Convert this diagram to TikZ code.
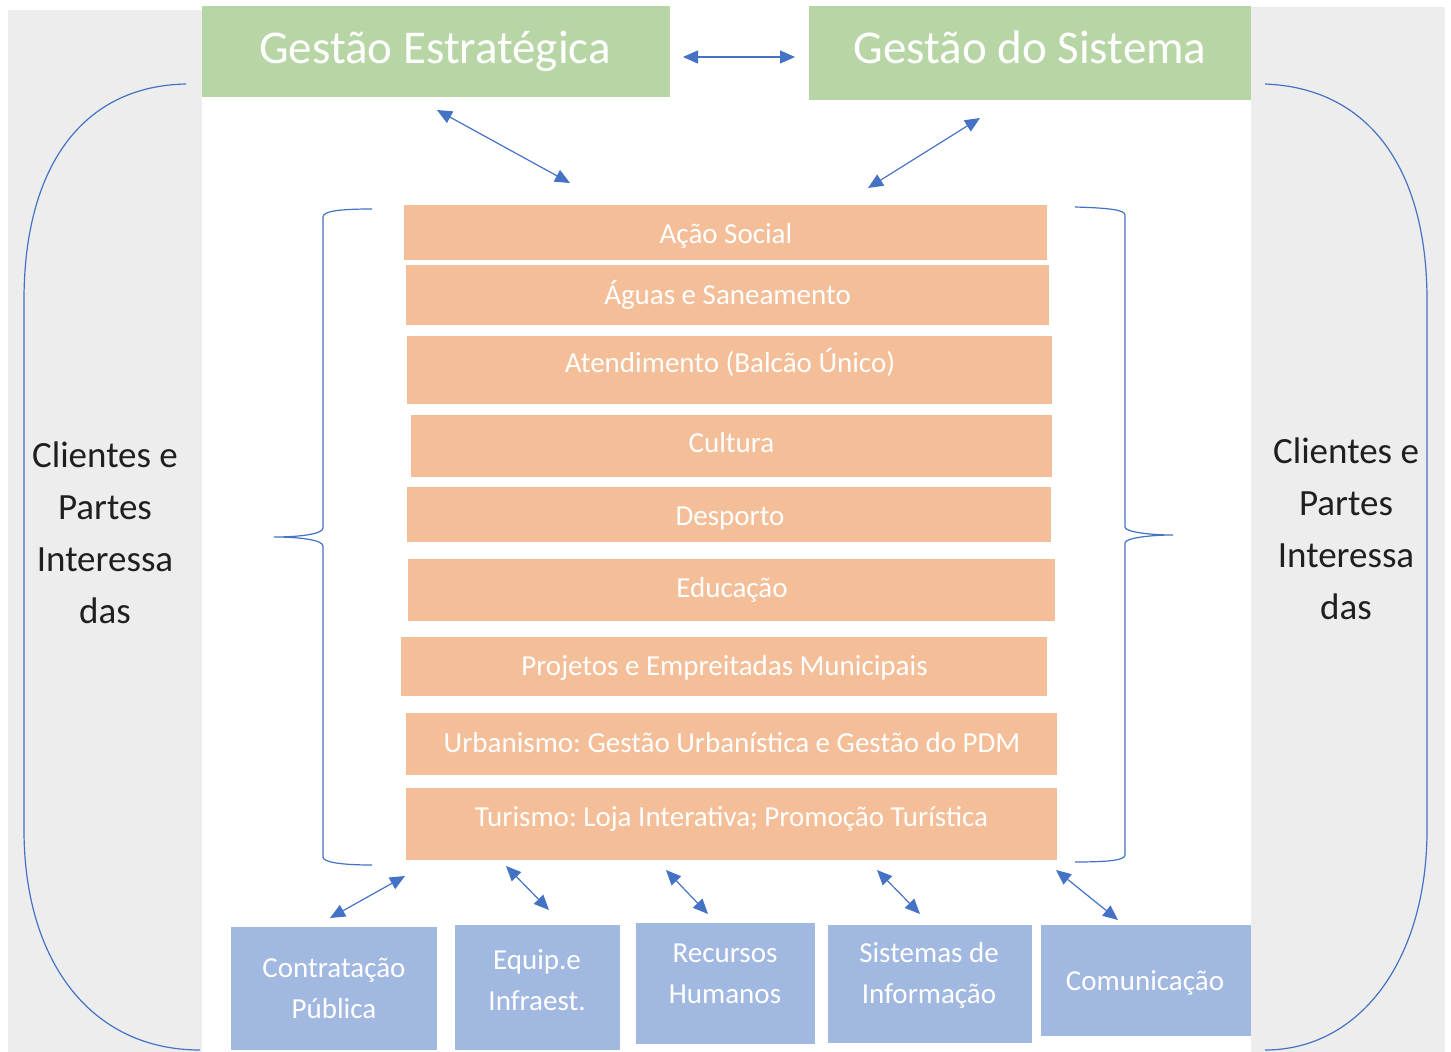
\documentclass[tikz,border=0pt]{standalone}
\usepackage{fontspec}
\setmainfont{Carlito}
\frenchspacing
\usetikzlibrary{arrows.meta}
\definecolor{gbox}{HTML}{B8D6A5}
\definecolor{obox}{HTML}{F4BE98}
\definecolor{bbox}{HTML}{A1B8E0}
\definecolor{panel}{HTML}{EDEDED}
\definecolor{lblue}{HTML}{4472C4}
\tikzset{
  greenbox/.style={fill=gbox, draw=none, inner sep=0pt},
  orangebox/.style={fill=obox, draw=none, inner sep=0pt},
  bluebox/.style={fill=bbox, draw=none, inner sep=0pt},
  titletext/.style={text=white, inner sep=0pt, anchor=base, font=\fontsize{47}{56}\selectfont},
  otext/.style={text=white, inner sep=0pt, anchor=base, font=\fontsize{29}{35}\selectfont},
  btext/.style={text=white, inner sep=0pt, align=center, font=\fontsize{29}{41}\selectfont},
  sidetext/.style={text=black!88, inner sep=0pt, align=center, font=\fontsize{37}{52}\selectfont},
  curve/.style={draw=lblue, line width=1.2pt},
  dblarrow/.style={draw=lblue, line width=1.2pt, {Triangle[length=15pt,width=13pt]}-{Triangle[length=15pt,width=13pt]}}
}
\begin{document}
\begin{tikzpicture}[x=1pt,y=-1pt]
\useasboundingbox (0,0) rectangle (1451,1052);
\fill[white] (0,0) rectangle (1451,1052);
% side panels
\fill[panel] (8,10) rectangle (202,1052);
\fill[panel] (1251,7) rectangle (1445,1052);
% big side curves
\draw[curve] (186,84) .. controls (80,86) and (24,170) .. (24,300) -- (24,830) .. controls (24,960) and (90,1050) .. (200,1050);
\draw[curve] (1265,84) .. controls (1370,88) and (1427,170) .. (1427,300) -- (1427,830) .. controls (1427,960) and (1360,1050) .. (1265,1050);
% side texts
\node[sidetext] (lside) at (105,533) {Clientes e\\Partes\\Interessa\\das};
\node[sidetext] (rside) at (1346,529) {Clientes e\\Partes\\Interessa\\das};
% green boxes
\node[greenbox, minimum width=468pt, minimum height=91pt] (g1) at (436,51.5) {};
\node[greenbox, minimum width=442pt, minimum height=94pt] (g2) at (1030,53) {};
\node[titletext] (g1t) at (435,63) {Gestão Estratégica};
\node[titletext] (g2t) at (1030,63) {Gestão do Sistema};
% orange boxes
\node[orangebox, minimum width=643pt, minimum height=55pt] (o1) at (725.5,232.5) {};
\node[orangebox, minimum width=643pt, minimum height=60pt] (o2) at (727.5,295) {};
\node[orangebox, minimum width=645pt, minimum height=68pt] (o3) at (729.5,370) {};
\node[orangebox, minimum width=641pt, minimum height=62pt] (o4) at (731.5,446) {};
\node[orangebox, minimum width=644pt, minimum height=55pt] (o5) at (729,514.5) {};
\node[orangebox, minimum width=647pt, minimum height=62pt] (o6) at (731.5,590) {};
\node[orangebox, minimum width=646pt, minimum height=59pt] (o7) at (724,666.5) {};
\node[orangebox, minimum width=651pt, minimum height=62pt] (o8) at (731.5,744) {};
\node[orangebox, minimum width=651pt, minimum height=72pt] (o9) at (731.5,824) {};
\node[otext] (o1t) at (726,243) {Ação Social};
\node[otext] (o2t) at (727.5,304) {Águas e Saneamento};
\node[otext] (o3t) at (730,372) {Atendimento (Balcão Único)};
\node[otext] (o4t) at (731.5,452) {Cultura};
\node[otext] (o5t) at (730,525) {Desporto};
\node[otext] (o6t) at (732,597) {Educação};
\node[otext] (o7t) at (724.5,675) {Projetos e Empreitadas Municipais};
\node[otext] (o8t) at (732,752) {Urbanismo: Gestão Urbanística e Gestão do PDM};
\node[otext] (o9t) at (731.5,826) {Turismo: Loja Interativa; Promoção Turística};
% braces
\draw[curve] (372,209) .. controls (340,209) and (323,211) .. (323,217) -- (323,528) .. controls (323,534) and (300,537) .. (274,537) .. controls (300,537) and (323,540) .. (323,546) -- (323,857) .. controls (323,862) and (340,865) .. (372,865);
\draw[curve] (1075,207) .. controls (1110,208) and (1125,210) .. (1125,215) -- (1125,527) .. controls (1125,532) and (1150,535) .. (1173,535) .. controls (1150,535) and (1125,538) .. (1125,543) -- (1125,855) .. controls (1125,860) and (1110,862) .. (1075,862);
% blue boxes
\node[bluebox, minimum width=206pt, minimum height=123pt] (b1) at (334,988.5) {};
\node[bluebox, minimum width=165pt, minimum height=125pt] (b2) at (537.5,987.5) {};
\node[bluebox, minimum width=179pt, minimum height=121pt] (b3) at (725.5,983.5) {};
\node[bluebox, minimum width=204pt, minimum height=118pt] (b4) at (930,984) {};
\node[bluebox, minimum width=210pt, minimum height=111pt] (b5) at (1146,980.5) {};
\node[btext] (b1t) at (334,988.5) {Contratação\\Pública};
\node[btext] (b2t) at (537,980) {Equip.e\\Infraest.};
\node[btext] (b3t) at (725,973.5) {Recursos\\Humanos};
\node[btext] (b4t) at (929,975) {Sistemas de\\Informação};
\node[btext] (b5t) at (1145,983) {Comunicação};
% arrow end points
\coordinate (h1) at (683,57);
\coordinate (h2) at (795,57);
\coordinate (d1a) at (437,110);
\coordinate (d1b) at (570,183);
\coordinate (d2a) at (980,118);
\coordinate (d2b) at (868,188);
\coordinate (e1a) at (405,876);
\coordinate (e1b) at (330,918);
\coordinate (e2a) at (506,866);
\coordinate (e2b) at (549,910);
\coordinate (e3a) at (666,870);
\coordinate (e3b) at (708,914);
\coordinate (e4a) at (877,870);
\coordinate (e4b) at (920,914);
\coordinate (e5a) at (1056,870);
\coordinate (e5b) at (1118,920);
\draw[dblarrow] (h1) -- (h2);
\draw[dblarrow] (d1a) -- (d1b);
\draw[dblarrow] (d2a) -- (d2b);
\draw[dblarrow] (e1a) -- (e1b);
\draw[dblarrow] (e2a) -- (e2b);
\draw[dblarrow] (e3a) -- (e3b);
\draw[dblarrow] (e4a) -- (e4b);
\draw[dblarrow] (e5a) -- (e5b);
\end{tikzpicture}
\end{document}
